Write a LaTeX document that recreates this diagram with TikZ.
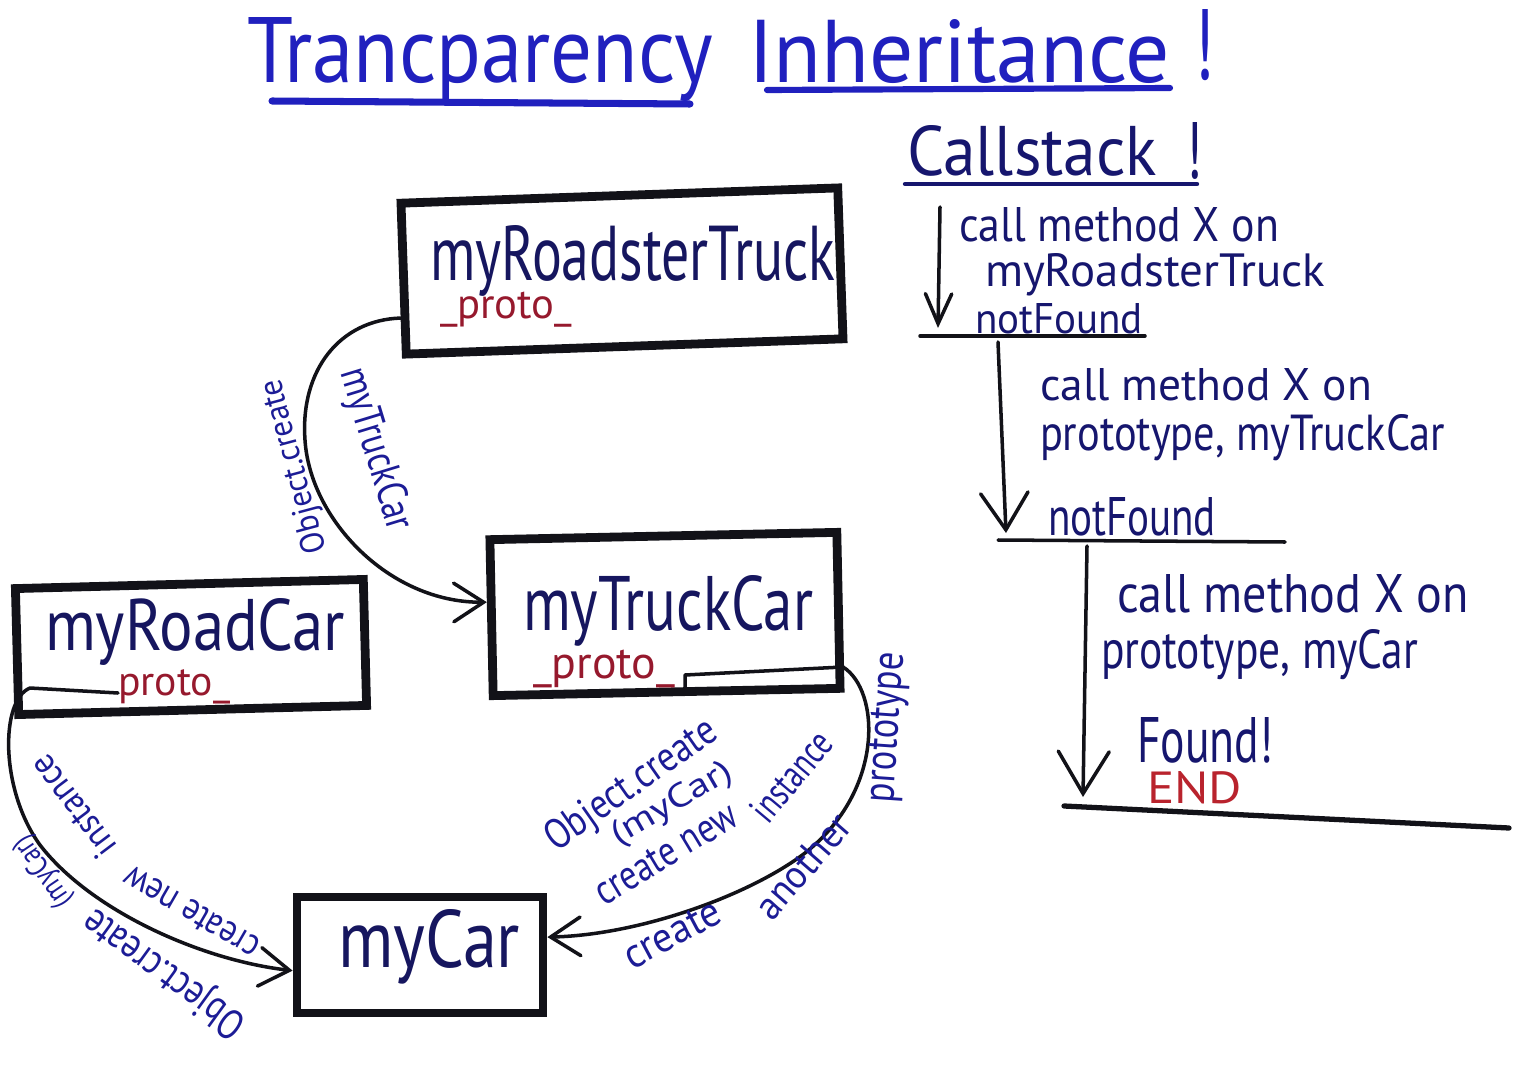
\documentclass[tikz,border=0pt]{standalone}
\usepackage{fontspec}
\setmainfont{PT Sans}
\usetikzlibrary{arrows.meta}

% one drawing unit = 0.02cm
\newlength\pxu
\setlength\pxu{0.02cm}
% text squeezed to a given width and height (in drawing units)
\newcommand\hw[3]{\resizebox{#1\pxu}{#2\pxu}{#3}}

\definecolor{inkblack}{RGB}{18,18,24}
\definecolor{titleblue}{RGB}{32,32,190}
\definecolor{boxink}{RGB}{22,22,95}
\definecolor{csink}{RGB}{22,22,110}
\definecolor{lblink}{RGB}{28,28,150}
\definecolor{protored}{RGB}{150,25,45}
\definecolor{endred}{RGB}{185,35,45}

\begin{document}
\begin{tikzpicture}[x=0.02cm,y=-0.02cm,
  lbl/.style={inner sep=0pt, outer sep=0pt, anchor=base west},
  titletxt/.style={lbl, text=titleblue},
  boxtxt/.style={lbl, text=boxink},
  prototxt/.style={lbl, text=protored},
  cstxt/.style={lbl, text=csink},
  curvetxt/.style={lbl, text=lblink},
  objbox/.style={draw=inkblack, line width=5pt, rectangle, inner sep=0pt},
  conn/.style={draw=inkblack, line width=2pt, line cap=round, line join=round,
    -{Straight Barb[length=17pt,width=22pt,line cap=round]}},
  plain/.style={draw=inkblack, line width=2pt, line cap=round},
  csarrow/.style={draw=inkblack, line width=2pt, line cap=round}]

\useasboundingbox[fill=white] (0,0) rectangle (1528,1068);

% ---------- title ----------
\node[titletxt] (ttrans) at (247,83) {\hw{466}{65}{Trancparency}};
\node[titletxt] (tinh) at (748,83) {\hw{422}{63}{Inheritance}};
\node[titletxt] (tbang) at (1194,80) {\hw{20}{70}{!}};
\draw[titleblue, line width=4pt, line cap=round] (272,101) -- (690,104);
\draw[titleblue, line width=3.5pt, line cap=round] (767,90) -- (1170,88);

% ---------- objects ----------
\node[objbox, minimum width=437*\pxu, minimum height=151*\pxu, rotate=2] (rt) at (622,271) {};
\node[boxtxt] (rtname) at (430,280) {\hw{405}{55}{myRoadsterTruck}};
\node[prototxt] (rtproto) at (440,318) {\resizebox{132\pxu}{!}{\_proto\_}};

\node[objbox, minimum width=347*\pxu, minimum height=156*\pxu, rotate=1.2] (tc) at (665,614) {};
\node[boxtxt] (tcname) at (523,630) {\hw{290}{55}{myTruckCar}};
\node[prototxt] (tcproto) at (533,678) {\resizebox{142\pxu}{!}{\_proto\_}};

\node[objbox, minimum width=348*\pxu, minimum height=126*\pxu, rotate=1.5] (rc) at (191,647) {};
\node[boxtxt] (rcname) at (45,650) {\hw{300}{52}{myRoadCar}};
\node[prototxt] (rcproto) at (118,695) {\resizebox{112\pxu}{!}{proto\_}};

\node[objbox, minimum width=246*\pxu, minimum height=116*\pxu] (mc) at (420,955) {};
\node[boxtxt] (mcname) at (338,967) {\hw{182}{58}{myCar}};

% ---------- prototype links ----------
\coordinate (tcslot) at (685,693);
\coordinate (rcslot) at (118,693);

\draw[conn] (rt.190) .. controls (340,320) and (300,370) .. (305,440)
  .. controls (310,520) and (390,603) .. (tc.175);
\draw[conn] (tcslot) -- (685,675) -- (843,667)
  .. controls (880,690) and (885,790) .. (805,853)
  .. controls (750,895) and (640,935) .. (mc.8);
\draw[conn] (rcslot) -- (30,688)
  .. controls (0,700) and (0,790) .. (40,845)
  .. controls (90,910) and (200,960) .. (mc.187);

% labels along the links
\node[curvetxt, rotate=105] (la) at (326,550) {\hw{178}{24}{Object.create}};
\node[curvetxt, rotate=-73] (lb) at (340,372) {\hw{168}{30}{myTruckCar}};

\node[curvetxt, rotate=150] (lc) at (262,940) {\hw{150}{24}{create new}};
\node[curvetxt, rotate=127] (ld) at (118,846) {\hw{118}{26}{instance}};
\node[curvetxt, rotate=144] (le) at (248,1019) {\hw{190}{30}{Object.create}};
\node[curvetxt, rotate=124] (lf) at (72,900) {\hw{80}{22}{(myCar)}};

\node[curvetxt, rotate=35] (lg) at (556,852) {\hw{200}{30}{Object.create}};
\node[curvetxt, rotate=30] (lh) at (618,845) {\hw{135}{24}{(myCar)}};
\node[curvetxt, rotate=31] (li) at (604,906) {\hw{160}{26}{create new}};
\node[curvetxt, rotate=50] (lm) at (768,825) {\hw{105}{28}{instance}};
\node[curvetxt, rotate=28] (lj) at (632,970) {\hw{105}{26}{create}};
\node[curvetxt, rotate=49] (lk) at (772,922) {\hw{125}{28}{another}};
\node[curvetxt, rotate=86] (ll) at (893,803) {\hw{150}{28}{prototype}};

% ---------- call stack ----------
\node[cstxt] (cshead) at (907,175) {\hw{250}{50}{Callstack}};
\node[cstxt] (csbang) at (1186,178) {\hw{16}{56}{!}};
\draw[csink, line width=2.5pt, line cap=round] (905,184) -- (1197,184);

\coordinate (a1s) at (940,207);
\coordinate (a1e) at (938,328);
\coordinate (a2s) at (998,342);
\coordinate (a2e) at (1006,533);
\coordinate (a3s) at (1087,546);
\coordinate (a3e) at (1083,797);
\draw[csarrow, -{Straight Barb[length=17pt,width=15pt,line cap=round]}] (a1s) -- (a1e);
\draw[csarrow, -{Straight Barb[length=21pt,width=27pt,line cap=round]}] (a2s) -- (a2e);
\draw[csarrow, -{Straight Barb[length=24pt,width=29pt,line cap=round]}] (a3s) -- (a3e);

\node[cstxt] (c1a) at (959,241) {\hw{320}{34}{call method X on}};
\node[cstxt] (c1b) at (985,286) {\hw{340}{33}{myRoadsterTruck}};
\node[cstxt] (nf1) at (975,333) {\hw{168}{30}{notFound}};
\draw[plain] (920,336) -- (1145,336);

\node[cstxt] (c2a) at (1040,400) {\hw{332}{32}{call method X on}};
\node[cstxt] (c2b) at (1040,450) {\hw{405}{36}{prototype, myTruckCar}};
\node[cstxt] (nf2) at (1048,535) {\hw{168}{38}{notFound}};
\draw[plain] (998,540) -- (1285,542);

\node[cstxt] (c3a) at (1117,612) {\hw{352}{38}{call method X on}};
\node[cstxt] (c3b) at (1101,668) {\hw{317}{39}{prototype, myCar}};
\node[cstxt] (fnd) at (1137,762) {\hw{136}{45}{Found!}};
\node[lbl, text=endred] (endw) at (1147,803) {\hw{95}{32}{END}};
\draw[draw=inkblack, line width=3pt, line cap=round] (1064,806) -- (1509,828);

\end{tikzpicture}
\end{document}
